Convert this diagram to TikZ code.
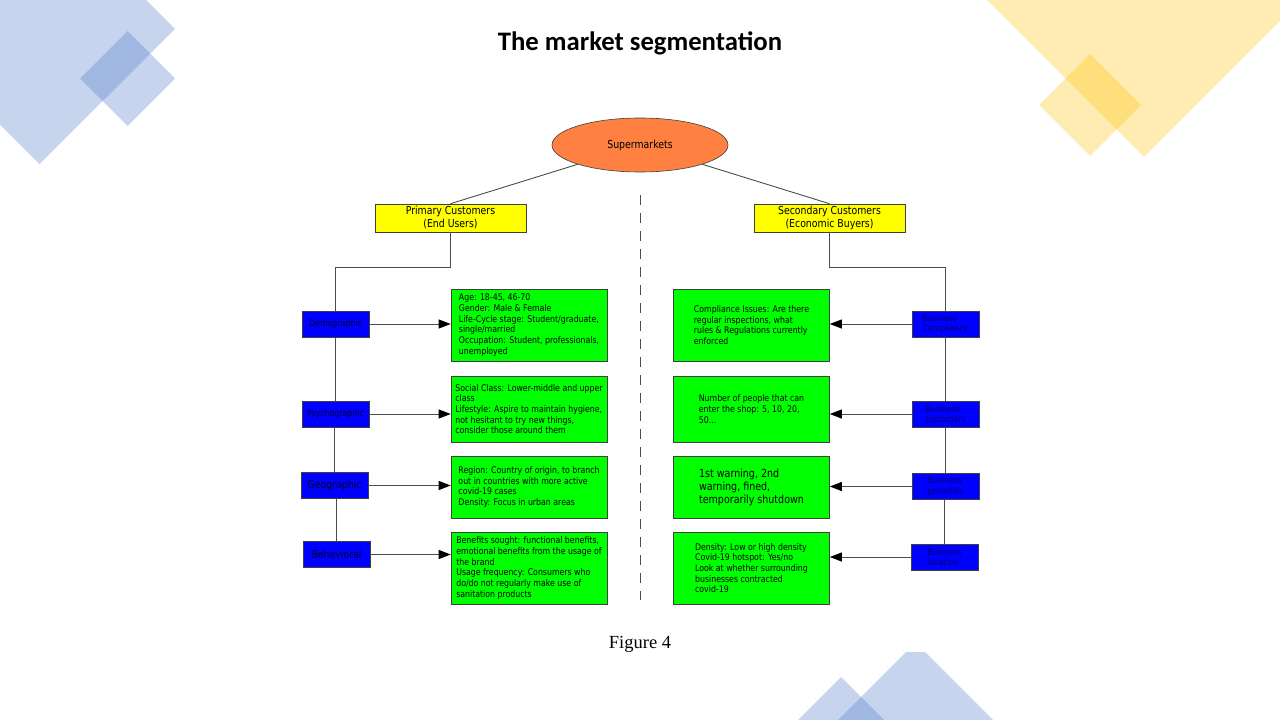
\documentclass[tikz,border=0pt]{standalone}
\usepackage{fontspec}
\usepackage{xcolor}
\usetikzlibrary{shapes.geometric,arrows.meta}
\newfontfamily\diafont{DejaVu Sans}[FakeStretch=0.85]
\newfontfamily\titlefont{Carlito}
\newfontfamily\capfont{Liberation Serif}
\newcommand\infosize{\fontsize{9.2}{10.7}\selectfont}
\newcommand\labsize{\fontsize{11}{13}\selectfont}
\definecolor{decoblue}{HTML}{4472C4}
\definecolor{decogold}{HTML}{FFC000}
\definecolor{segblue}{RGB}{0,0,255}
\definecolor{infogreen}{RGB}{0,255,0}
\definecolor{custyellow}{RGB}{255,255,0}
\definecolor{rootorange}{RGB}{255,128,64}
\definecolor{segtext}{RGB}{0,0,110}
\begin{document}
\begin{tikzpicture}[x=1pt,y=-1pt,
  link/.style={draw=black!70,line width=0.9pt},
  arr/.style={link,-{Triangle[length=12pt,width=9pt,black]}},
  seg/.style={rectangle,draw=black!75,line width=0.6pt,fill=segblue,minimum width=67,minimum height=26,inner sep=1pt,align=left,font=\diafont\infosize,text=black!85!blue},
  segr/.style={seg,text=segtext},
  info/.style={rectangle,draw=black!75,line width=0.6pt,fill=infogreen,minimum width=156,align=left,font=\diafont\infosize},
  cust/.style={rectangle,draw=black!75,line width=0.6pt,fill=custyellow,minimum width=151,minimum height=28,inner sep=1pt,align=center,font=\diafont\labsize}]
  \useasboundingbox (0,0) rectangle (1280,720);
  \begin{scope}
    \clip (0,0) rectangle (1280,720);
    \fill[decoblue,opacity=0.3] (175,29) -- (39.5,164) -- (-96,28.5) -- (39.5,-107) -- cycle;
    \fill[decoblue,opacity=0.3] (127.5,31) -- (175,78.5) -- (127.5,126) -- (80,78.5) -- cycle;
    \fill[decogold,opacity=0.3] (1144,157) -- (914,-73) -- (1144,-303) -- (1374,-73) -- cycle;
    \fill[decogold,opacity=0.3] (1090,54) -- (1141,105) -- (1090,156) -- (1039,105) -- cycle;
    \fill[decoblue,opacity=0.3] (833,725) -- (906,652) -- (925,652) -- (998,725) -- cycle;
    \fill[decoblue,opacity=0.3] (793,725) -- (841,677) -- (889,725) -- cycle;
  \end{scope}

  \node (title) at (640,43) {\titlefont\bfseries\fontsize{26.7}{30}\selectfont The market segmentation};
  \node (fig) at (640,644) {\capfont\fontsize{18.5}{22}\selectfont Figure 4};

  \node[ellipse,draw=black!75,line width=0.6pt,fill=rootorange,minimum width=176,minimum height=54,inner sep=0pt,font=\diafont\labsize] (super) at (640,145) {Supermarkets};
  \node[cust] (prim) at (450.5,218) {Primary Customers\\(End Users)};
  \node[cust] (sec) at (829.5,218) {Secondary Customers\\(Economic Buyers)};
  \draw[link] (super) -- (prim.north);
  \draw[link] (super) -- (sec.north);
  \coordinate (divtop) at (640,195);
  \coordinate (divbot) at (640,600);
  \draw[draw=black!70,line width=0.8pt,dash pattern=on 10pt off 8pt] (divtop) -- (divbot);

  \node[seg] (demo) at (335.5,324) {Demographic};
  \node[seg] (psycho) at (335.5,414) {Psychographic};
  \node[seg,font=\diafont\labsize] (geo) at (334.5,485.5) {Geographic};
  \node[seg,font=\diafont\labsize] (behav) at (336.5,554.5) {Behavioral};

  \node[info,minimum height=72] (ageinfo) at (529,325) {Age: 18-45, 46-70\\Gender: Male \& Female\\Life-Cycle stage: Student/graduate,\\single/married\\Occupation: Student, professionals,\\unemployed};
  \node[info,minimum height=66] (classinfo) at (529,409) {Social Class: Lower-middle and upper\\class\\Lifestyle: Aspire to maintain hygiene,\\not hesitant to try new things,\\consider those around them};
  \node[info,minimum height=62] (regioninfo) at (529,487) {Region: Country of origin, to branch\\out in countries with more active\\covid-19 cases\\Density: Focus in urban areas};
  \node[info,minimum height=72] (benefitinfo) at (529,568) {Benefits sought: functional benefits,\\emotional benefits from the usage of\\the brand\\Usage frequency: Consumers who\\do/do not regularly make use of\\sanitation products};

  \draw[link] (prim.south) -- ++(0,35) -| (demo.north);
  \draw[link] (demo.south) -- (psycho.north);
  \draw[link] (psycho.south -| geo.north) -- (geo.north);
  \draw[link] (geo.south -| behav.north) -- (behav.north);
  \draw[arr] (demo.east) -- (demo.east -| ageinfo.west);
  \draw[arr] (psycho.east) -- (psycho.east -| classinfo.west);
  \draw[arr] (geo.east) -- (geo.east -| regioninfo.west);
  \draw[arr] (behav.east) -- (behav.east -| benefitinfo.west);

  \node[segr] (comp) at (945.5,324) {Business\\Compliance};
  \node[segr] (bcust) at (945.5,414) {Business\\customers};
  \node[segr] (pen) at (945.5,486.5) {Business\\penalties};
  \node[segr] (loc) at (944.5,557) {Business\\location};

  \node[info,minimum height=72] (compinfo) at (751.5,325) {Compliance Issues: Are there\\regular inspections, what\\rules \& Regulations currently\\enforced};
  \node[info,minimum height=66] (peopleinfo) at (751.5,409) {Number of people that can\\enter the shop: 5, 10, 20,\\50...};
  \node[info,minimum height=62,font=\diafont\fontsize{11.2}{13}\selectfont] (warninfo) at (751.5,487) {1st warning, 2nd\\warning, fined,\\temporarily shutdown};
  \node[info,minimum height=72] (densinfo) at (751.5,568) {Density: Low or high density\\Covid-19 hotspot: Yes/no\\Look at whether surrounding\\businesses contracted\\covid-19};

  \draw[link] (sec.south) -- ++(0,35) -| (comp.north);
  \draw[link] (comp.south) -- (bcust.north);
  \draw[link] (bcust.south) -- (pen.north);
  \draw[link] (pen.south -| loc.north) -- (loc.north);
  \draw[arr] (comp.west) -- (comp.west -| compinfo.east);
  \draw[arr] (bcust.west) -- (bcust.west -| peopleinfo.east);
  \draw[arr] (pen.west) -- (pen.west -| warninfo.east);
  \draw[arr] (loc.west) -- (loc.west -| densinfo.east);
\end{tikzpicture}
\end{document}
